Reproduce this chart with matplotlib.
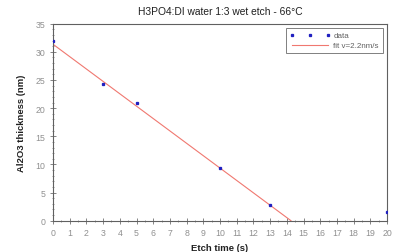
import matplotlib
matplotlib.use("Agg")
import matplotlib.pyplot as plt
from matplotlib.ticker import MultipleLocator

plt.rcParams['font.family'] = ['Liberation Sans', 'DejaVu Sans']

etch_time = [0, 3, 5, 10, 13, 20]
thickness = [32.0, 24.3, 20.9, 9.4, 2.8, 1.6]

fit_time = [0, 14.25]
fit_thickness = [31.35, 0]

fig = plt.figure(figsize=(3.97, 2.53), dpi=100)
ax = fig.add_axes([53 / 397, 1 - 221.7 / 253, 334 / 397, 197 / 253])

ax.plot(fit_time, fit_thickness, color='#f07870', linewidth=0.8, label='fit v=2.2nm/s', zorder=2)
ax.plot(etch_time, thickness, linestyle='none', marker='s', markersize=1.4,
        color='#2020c0', label='data', zorder=3)

ax.set_xlim(0, 20)
ax.set_ylim(0, 35)
ax.xaxis.set_major_locator(MultipleLocator(1))
ax.xaxis.set_minor_locator(MultipleLocator(0.5))
ax.yaxis.set_major_locator(MultipleLocator(5))
ax.yaxis.set_minor_locator(MultipleLocator(1))

ax.tick_params(which='both', direction='inout', colors='#707070', labelsize=6.3,
               labelcolor='#909090')
ax.tick_params(which='major', length=4, width=0.6)
ax.tick_params(which='minor', length=2, width=0.5)
for s in ax.spines.values():
    s.set_color('#606060')
    s.set_linewidth(0.8)

ax.set_title('H3PO4:DI water 1:3 wet etch - 66°C', fontsize=7.4, color='#202020', pad=7)
ax.set_xlabel('Etch time (s)', fontsize=6.8, fontweight='bold', color='#202020', labelpad=4)
ax.set_ylabel('Al2O3 thickness (nm)', fontsize=6.8, fontweight='bold', color='#202020', labelpad=7)

handles, labels = ax.get_legend_handles_labels()
leg = ax.legend(handles[::-1], labels[::-1], loc='upper right', fontsize=5.8, numpoints=3,
                frameon=True, fancybox=False, edgecolor='#606060', borderpad=0.5,
                handlelength=5, labelspacing=0.3, borderaxespad=0.5, handletextpad=0.4)
leg.get_frame().set_linewidth(0.7)
for t in leg.get_texts():
    t.set_color('#606060')

fig.savefig('out.png', dpi=100)
